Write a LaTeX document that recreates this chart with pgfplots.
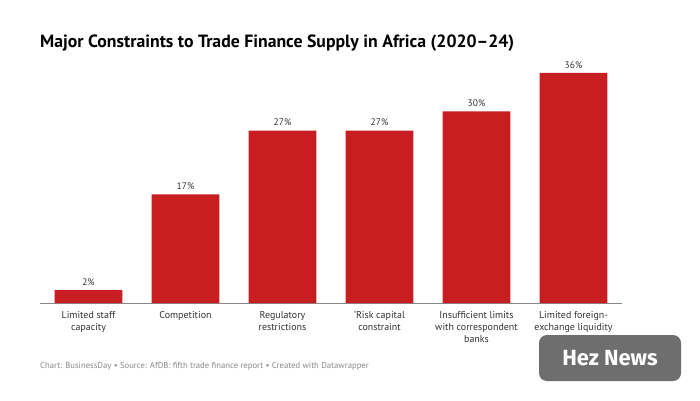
\documentclass[border=0pt]{standalone}
\usepackage{pgfplots}
\pgfplotsset{compat=1.18}
\usepackage{fontspec}
\setmainfont{PT Sans}
\newfontfamily\wmfont{Fira Sans}
\definecolor{barred}{HTML}{C71E22}
\definecolor{labgray}{HTML}{333333}
\definecolor{footgray}{HTML}{8A8A8A}
\definecolor{axgray}{HTML}{888888}
\definecolor{wmgray}{HTML}{6E6E6E}
\begin{document}
\begin{tikzpicture}[x=1bp,y=1bp]
\path[use as bounding box, fill=white] (0,0) rectangle (700,400);
\node[anchor=base west, inner sep=0pt, font=\bfseries\fontsize{17.8}{20}\selectfont, text=black] at (40,352.7) {Major Constraints to Trade Finance Supply in Africa (2020--24)};
\begin{axis}[
  at={(40bp,97bp)}, anchor=south west,
  scale only axis, width=582bp, height=230bp,
  xmin=-0.5, xmax=5.5, ymin=0, ymax=36,
  axis x line=bottom, axis y line=none,
  x axis line style={draw=axgray, line width=0.8pt, -},
  xtick={0,1,2,3,4,5},
  xticklabels={Limited staff\\capacity, Competition, Regulatory\\restrictions, 'Risk capital\\constraint, Insufficient limits\\with correspondent\\banks, Limited foreign-\\exchange liquidity},
  xtick style={draw=none},
  xticklabel style={align=center, text=labgray, font=\fontsize{10}{12}\selectfont, yshift=-1bp},
  ytick=\empty,
  clip=false,
  ybar, bar width=0.7,
  /pgf/number format/assume math mode=true,
  nodes near coords={\pgfmathprintnumber{\pgfplotspointmeta}\%},
  nodes near coords style={text=labgray, font=\fontsize{9.5}{11}\selectfont, yshift=1bp},
]
\addplot[fill=barred, draw=none] coordinates {(0,2) (1,17) (2,27) (3,27) (4,30) (5,36)};
\end{axis}
\node[anchor=base west, inner sep=0pt, text=footgray, font=\fontsize{8.7}{10}\selectfont] at (40,32) {Chart: BusinessDay • Source: AfDB: fifth trade finance report • Created with Datawrapper};
\fill[wmgray, rounded corners=8bp] (539,19) rectangle (681,65);
\node[text=white, font=\wmfont\bfseries\fontsize{22}{26}\selectfont] at (610,42) {Hez News};
\end{tikzpicture}
\end{document}
